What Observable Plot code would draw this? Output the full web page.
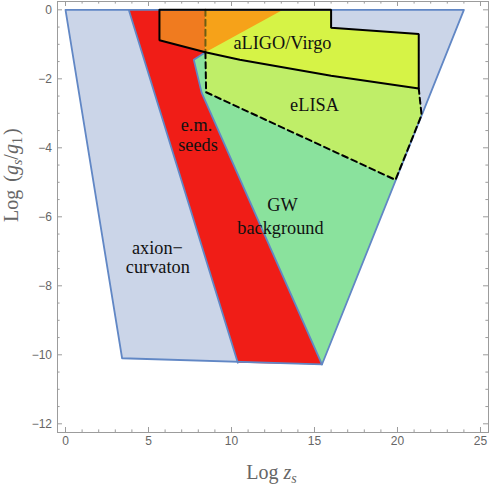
<!DOCTYPE html>
<html><head><meta charset="utf-8">
<script src="https://cdn.jsdelivr.net/npm/d3@7"></script>
<script src="https://cdn.jsdelivr.net/npm/@observablehq/plot@0.6"></script>
<style>body{margin:0;background:#fff} svg{display:block}</style>
</head><body><div id="chart"></div>
<script>
// ---- data (Log z_s, Log g_s/g_1) ----
const axionCurvaton = [[0,0],[24,0],[15.45,-10.28],[3.41,-10.1]];
const emSeeds = [[3.81,0],[13.1,0],[8.43,-1.23],[7.73,-1.45],[8.2,-2.4],[15.45,-10.28],[10.38,-10.23]];
const gwBackground = [[7.73,-1.45],[8.43,-1.23],[13.1,0],[16,0],[16,-0.52],[21.28,-0.7],[21.28,-2.28],[21.45,-3.05],[15.45,-10.28],[8.2,-2.4]];
const eLISA = [[8.43,0],[16,0],[16,-0.52],[21.28,-0.7],[21.28,-2.28],[21.45,-3.05],[19.88,-4.93],[8.47,-2.39]];
const aLIGO = [[5.66,0],[16,0],[16,-0.52],[21.28,-0.7],[21.28,-2.28],[16,-1.91],[10.5,-1.45],[8.43,-1.23],[5.66,-0.88],[5.66,0]];
const overlapLIGOseeds = [[5.66,0],[8.43,0],[8.43,-1.23],[5.66,-0.88]];
const overlapLIGOeLISAseeds = [[8.43,0],[13.1,0],[8.43,-1.23]];
const seedsLeftEdge = [[3.81,0],[10.38,-10.23]];
const gwLeftEdge = [[15.45,-10.28],[8.2,-2.4],[7.73,-1.45],[8.43,-1.23]];
const eLISAEdgeLower = [[8.43,-1.23],[8.47,-2.39],[19.88,-4.93],[21.45,-3.05],[21.28,-2.28]];
const eLISAEdgeUpper = [[8.43,0],[8.43,-1.23]];

const labelText = ["aLIGO/Virgo","eLISA","e.m.","seeds","GW","background","axion\u2212","curvaton"];
const labelX = [13.07, 15.0, 7.89, 7.98, 13.07, 12.95, 5.54, 5.56];
const labelY = [-1.13, -2.94, -3.52, -4.10, -5.82, -6.49, -7.08, -7.64];

const xMajorTicks = [0,5,10,15,20,25];
const xTickLabels = ["0","5","10","15","20","25"];
const xMinorTicks = [1,2,3,4,6,7,8,9,11,12,13,14,16,17,18,19,21,22,23,24];
const yMajorTicks = [0,-2,-4,-6,-8,-10,-12];
const yTickLabels = ["0","\u22122","\u22124","\u22126","\u22128","\u221210","\u221212"];
const yMinorTicks = [-0.5,-1,-1.5,-2.5,-3,-3.5,-4.5,-5,-5.5,-6.5,-7,-7.5,-8.5,-9,-9.5,-10.5,-11,-11.5];

const W = 491, H = 485, ML = 57, MR = 3, MT = 1, MB = 53;
const FW = W - ML - MR, FH = H - MT - MB;
const gray = "#9c9c9c", tickText = "#666";
const blueEdge = "#6187c5";

const poly = (pts, fill) => Plot.line(pts, {x: d => d[0], y: d => d[1], fill, stroke: null});
const edge = (pts, stroke, opts = {}) => Plot.line(pts, {x: d => d[0], y: d => d[1], stroke, strokeWidth: 1.8, ...opts});

const chart = Plot.plot({
  width: W, height: H,
  marginLeft: ML, marginRight: MR, marginTop: MT, marginBottom: MB,
  x: {domain: [-0.482, 25.482], axis: null},
  y: {domain: [-12.252, 0.241], axis: null},
  style: {background: "#fff"},
  marks: [
    poly(axionCurvaton, "#cbd5e8"),
    poly(emSeeds, "#f01d17"),
    poly(gwBackground, "#8ae29d"),
    poly(eLISA, "#bfee68"),
    poly(aLIGO, "#d6f346"),
    poly(overlapLIGOseeds, "#f07b1f"),
    poly(overlapLIGOeLISAseeds, "#f6a219"),
    edge([...axionCurvaton, axionCurvaton[0]], blueEdge),
    edge(seedsLeftEdge, blueEdge),
    edge(gwLeftEdge, blueEdge),
    edge(eLISAEdgeUpper, "#6b5e14", {strokeWidth: 2, strokeDasharray: "6,4"}),
    edge(eLISAEdgeLower, "#000", {strokeWidth: 2, strokeDasharray: "6,4"}),
    edge(aLIGO, "#000", {strokeWidth: 2, strokeLinejoin: "miter"}),
    Plot.text(labelText, {x: (d, i) => labelX[i], y: (d, i) => labelY[i], text: d => d,
      lineAnchor: "bottom", fontFamily: "Liberation Serif", fontSize: 18.3, fill: "#111"}),
    Plot.frame({stroke: gray}),
    Plot.tickX(xMajorTicks, {x: d => d, stroke: gray, insetTop: FH - 5}),
    Plot.tickX(xMajorTicks, {x: d => d, stroke: gray, insetBottom: FH - 5}),
    Plot.tickX(xMinorTicks, {x: d => d, stroke: gray, insetTop: FH - 2.6}),
    Plot.tickX(xMinorTicks, {x: d => d, stroke: gray, insetBottom: FH - 2.6}),
    Plot.tickY(yMajorTicks, {y: d => d, stroke: gray, insetRight: FW - 5}),
    Plot.tickY(yMajorTicks, {y: d => d, stroke: gray, insetLeft: FW - 5}),
    Plot.tickY(yMinorTicks, {y: d => d, stroke: gray, insetRight: FW - 2.6}),
    Plot.tickY(yMinorTicks, {y: d => d, stroke: gray, insetLeft: FW - 2.6}),
    Plot.text(xMajorTicks, {x: d => d, frameAnchor: "bottom", dy: 12, text: (d, i) => xTickLabels[i],
      fontFamily: "Liberation Sans", fontSize: 12, fill: tickText}),
    Plot.text(yMajorTicks, {y: d => d, frameAnchor: "left", dx: -5.5, textAnchor: "end", text: (d, i) => yTickLabels[i],
      fontFamily: "Liberation Sans", fontSize: 12, fill: tickText}),
    Plot.text(["XLABEL"], {frameAnchor: "bottom", dx: -1.5, dy: 46.3, lineAnchor: "bottom", text: d => d,
      fontFamily: "Liberation Serif", fontSize: 20, fill: tickText}),
    Plot.text(["YLABEL"], {frameAnchor: "left", rotate: -90, dx: -40, dy: 5, lineAnchor: "bottom", text: d => d,
      fontFamily: "Liberation Serif", fontSize: 20, fill: tickText})
  ]
});

chart.querySelectorAll("text").forEach(t => {
  if (t.textContent === "XLABEL") {
    t.innerHTML = 'Log <tspan font-style="italic">z</tspan><tspan font-style="italic" font-size="14" dy="4">s</tspan>';
  } else if (t.textContent === "YLABEL") {
    t.innerHTML = 'Log <tspan dx="3">(</tspan><tspan font-style="italic">g</tspan><tspan font-style="italic" font-size="14" dy="4">s</tspan><tspan dy="-4">/</tspan><tspan font-style="italic">g</tspan><tspan font-size="14" dy="4">1</tspan><tspan dy="-4" dx="2">)</tspan>';
  }
});

document.getElementById("chart").appendChild(chart);
</script>
</body></html>
